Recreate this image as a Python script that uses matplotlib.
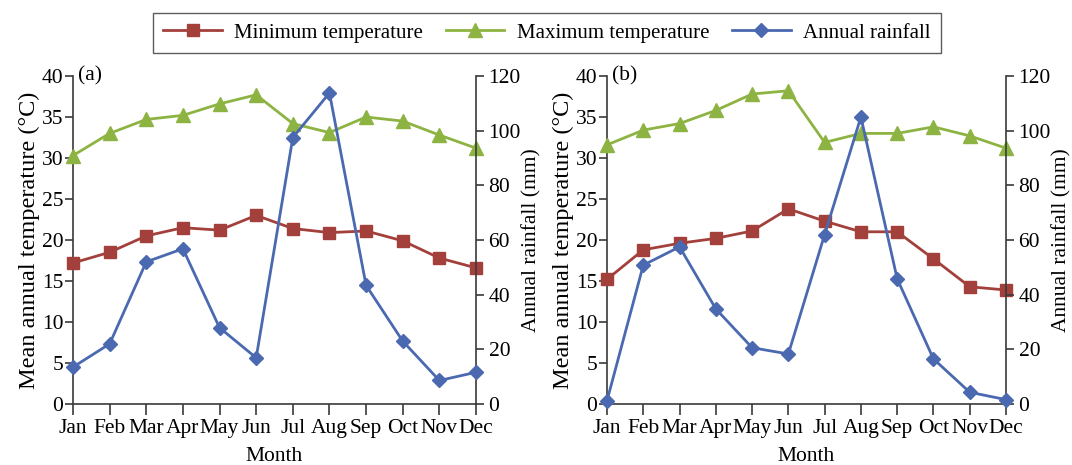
import matplotlib.pyplot as plt
from matplotlib.lines import Line2D

plt.rcParams["font.family"] = ["Liberation Serif", "DejaVu Serif"]
plt.rcParams["font.size"] = 15.5

months = ["Jan", "Feb", "Mar", "Apr", "May", "Jun", "Jul", "Aug", "Sep", "Oct", "Nov", "Dec"]

# panel (a)
min_a = [17.2, 18.5, 20.5, 21.5, 21.2, 23.0, 21.4, 20.9, 21.1, 19.9, 17.8, 16.6]
max_a = [30.3, 33.0, 34.7, 35.2, 36.6, 37.7, 34.2, 33.1, 35.0, 34.5, 32.8, 31.2]
rain_a = [13.5, 22.0, 52.0, 56.8, 27.9, 16.9, 97.5, 113.8, 43.4, 23.0, 8.6, 11.6]

# panel (b)
min_b = [15.2, 18.8, 19.6, 20.2, 21.1, 23.8, 22.3, 21.0, 21.0, 17.7, 14.3, 13.9]
max_b = [31.6, 33.4, 34.2, 35.8, 37.8, 38.2, 31.9, 33.0, 33.0, 33.8, 32.7, 31.2]
rain_b = [1.2, 50.8, 57.5, 34.8, 20.6, 18.3, 62.0, 105.0, 45.8, 16.5, 4.3, 1.6]

RED = "#A3403C"
GREEN = "#8DB443"
BLUE = "#4A69B0"
AXCOL = "#3a3a3a"

W, H = 1072, 465
fig = plt.figure(figsize=(W / 100, H / 100), dpi=100)


def px_rect(x0, x1, ytop, ybot):
    return [x0 / W, 1 - ybot / H, (x1 - x0) / W, (ybot - ytop) / H]


def draw_panel(rect, tag, tmin, tmax, rain):
    ax = fig.add_axes(rect)
    ax2 = ax.twinx()
    x = range(len(months))

    ax.plot(x, tmin, color=RED, lw=2.0, marker="s", ms=9, zorder=3, clip_on=False)
    ax.plot(x, tmax, color=GREEN, lw=2.0, marker="^", ms=10, zorder=3, clip_on=False)
    ax2.plot(x, rain, color=BLUE, lw=2.0, marker="D", ms=7, zorder=3, clip_on=False)

    ax.set_xlim(0, 11)
    ax.set_ylim(0, 40)
    ax.set_yticks(range(0, 41, 5))
    ax2.set_ylim(0, 120)
    ax2.set_yticks(range(0, 121, 20))
    ax.set_xticks(list(x))
    ax.set_xticklabels(months)

    for a in (ax, ax2):
        a.spines["top"].set_visible(False)
        for s in a.spines.values():
            s.set_color(AXCOL)
            s.set_linewidth(1.2)
    ax.spines["right"].set_visible(False)
    ax2.spines["left"].set_visible(False)
    ax2.spines["bottom"].set_visible(False)

    ax.tick_params(axis="y", direction="out", length=6, width=1.2, color=AXCOL, pad=1)
    ax.tick_params(axis="x", direction="out", length=8, width=1.2, color=AXCOL, pad=3)
    ax2.tick_params(axis="y", direction="out", length=6, width=1.2, color=AXCOL, pad=3)

    ax.set_xlabel("Month", labelpad=6)
    ax.set_ylabel("Mean annual temperature (°C)", labelpad=1, fontsize=17.5)
    ax2.set_ylabel("Annual rainfall (mm)", labelpad=1, fontsize=15.5)
    ax.text(0.012, 1.0, tag, transform=ax.transAxes, ha="left", va="center", fontsize=15.5)
    return ax


draw_panel(px_rect(73, 476, 76, 404), "(a)", min_a, max_a, rain_a)
draw_panel(px_rect(607, 1006, 76, 404), "(b)", min_b, max_b, rain_b)

handles = [
    Line2D([], [], color=RED, lw=2.0, marker="s", ms=9),
    Line2D([], [], color=GREEN, lw=2.0, marker="^", ms=10),
    Line2D([], [], color=BLUE, lw=2.0, marker="D", ms=7),
]
labels = ["Minimum temperature", "Maximum temperature", "Annual rainfall"]
leg = fig.legend(handles, labels, loc="center", bbox_to_anchor=(547 / W, 1 - 33 / H), ncol=3,
                 frameon=True, fancybox=False, edgecolor="#333333", handlelength=2.8,
                 columnspacing=1.1, handletextpad=0.6, borderpad=0.5, fontsize=15)
leg.get_frame().set_linewidth(1.0)

fig.savefig("out.png", dpi=100)
